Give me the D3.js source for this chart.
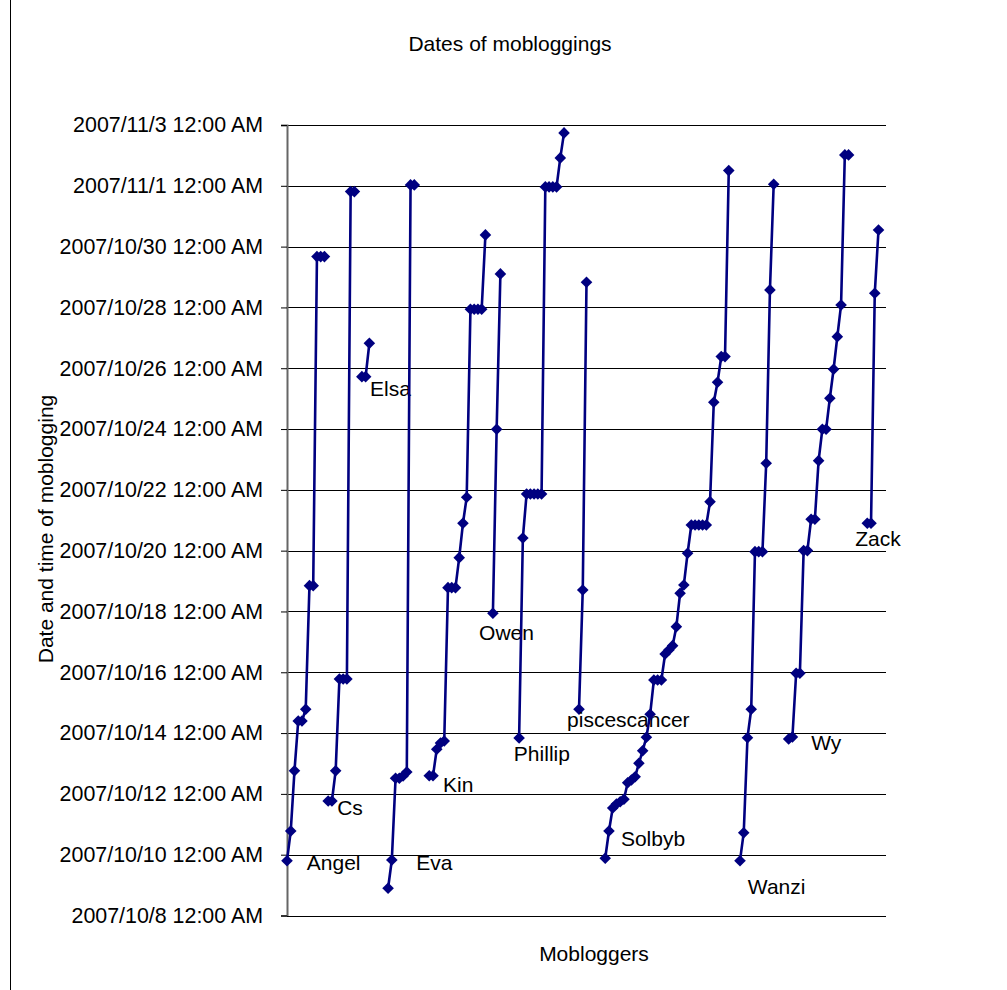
<!DOCTYPE html>
<html>
<head>
<meta charset="utf-8">
<script src="https://cdn.jsdelivr.net/npm/d3@7"></script>
<style>
  html, body { margin: 0; padding: 0; background: #fff; }
  svg { display: block; font-family: "Liberation Sans", Arial, sans-serif; }
</style>
</head>
<body>
<svg id="chart" width="1007" height="990"></svg>
<script>
// ---------------- DATA ----------------
const chartTitle = "Dates of mobloggings";
const yTitle = "Date and time of moblogging";
const xTitle = "Mobloggers";

const tickLabels = [
  "2007/10/8 12:00 AM", "2007/10/10 12:00 AM", "2007/10/12 12:00 AM", "2007/10/14 12:00 AM",
  "2007/10/16 12:00 AM", "2007/10/18 12:00 AM", "2007/10/20 12:00 AM", "2007/10/22 12:00 AM",
  "2007/10/24 12:00 AM", "2007/10/26 12:00 AM", "2007/10/28 12:00 AM", "2007/10/30 12:00 AM",
  "2007/11/1 12:00 AM", "2007/11/3 12:00 AM"
];

const categoryCount = 161;

const names = ["Angel", "Cs", "Elsa", "Eva", "Kin", "Owen", "Phillip", "piscescancer", "Solbyb", "Wanzi", "Wy", "Zack"];
const startCategory = [0, 11, 20, 27, 38, 55, 62, 78, 85, 121, 134, 155];

const angel = ["2007-10-09 19:16", "2007-10-10 18:43", "2007-10-12 18:19", "2007-10-14 09:33", "2007-10-14 09:33",
  "2007-10-14 18:47", "2007-10-18 20:23", "2007-10-18 20:23", "2007-10-29 16:06", "2007-10-29 16:06", "2007-10-29 16:06"];
const cs = ["2007-10-11 18:23", "2007-10-11 18:23", "2007-10-12 18:19", "2007-10-15 18:43", "2007-10-15 18:43",
  "2007-10-15 18:43", "2007-10-31 19:25", "2007-10-31 19:25"];
const elsa = ["2007-10-25 17:22", "2007-10-25 17:22", "2007-10-26 19:44"];
const eva = ["2007-10-08 21:29", "2007-10-09 19:50", "2007-10-12 12:19", "2007-10-12 12:19", "2007-10-12 14:08",
  "2007-10-12 17:17", "2007-11-01 00:43", "2007-11-01 00:43"];
const kin = ["2007-10-12 14:22", "2007-10-12 14:22", "2007-10-13 11:12", "2007-10-13 16:11", "2007-10-13 17:46",
  "2007-10-18 18:47", "2007-10-18 18:47", "2007-10-18 18:47", "2007-10-19 18:29", "2007-10-20 21:37",
  "2007-10-21 18:10", "2007-10-27 22:35", "2007-10-27 22:35", "2007-10-27 22:35", "2007-10-27 22:35",
  "2007-10-30 09:14"];
const owen = ["2007-10-17 22:35", "2007-10-23 23:50", "2007-10-29 02:27"];
const phillip = ["2007-10-13 20:08", "2007-10-20 10:02", "2007-10-21 20:46", "2007-10-21 20:46", "2007-10-21 20:46",
  "2007-10-21 20:46", "2007-10-21 20:46", "2007-10-31 23:08", "2007-10-31 23:08", "2007-10-31 23:08",
  "2007-10-31 23:08", "2007-11-01 22:02", "2007-11-02 17:46"];
const piscescancer = ["2007-10-14 18:47", "2007-10-18 16:58", "2007-10-28 19:53"];
const solbyb = ["2007-10-09 21:10", "2007-10-10 18:43", "2007-10-11 12:52", "2007-10-11 16:02", "2007-10-11 17:50",
  "2007-10-11 19:44", "2007-10-12 08:50", "2007-10-12 10:58", "2007-10-12 13:35", "2007-10-13 00:10",
  "2007-10-13 10:06", "2007-10-13 20:41", "2007-10-14 14:50", "2007-10-15 17:55", "2007-10-15 17:55",
  "2007-10-15 17:55", "2007-10-16 14:27", "2007-10-16 17:37", "2007-10-16 21:00", "2007-10-17 12:00",
  "2007-10-18 14:22", "2007-10-18 20:55", "2007-10-19 21:56", "2007-10-20 20:17", "2007-10-20 20:17",
  "2007-10-20 20:17", "2007-10-20 20:17", "2007-10-20 20:17", "2007-10-21 14:41", "2007-10-24 21:10",
  "2007-10-25 12:56", "2007-10-26 09:10", "2007-10-26 09:10", "2007-11-01 12:00"];
const wanzi = ["2007-10-09 19:16", "2007-10-10 17:22", "2007-10-13 20:22", "2007-10-14 18:47", "2007-10-19 23:13",
  "2007-10-19 23:13", "2007-10-19 23:13", "2007-10-22 21:00", "2007-10-28 13:49", "2007-11-01 01:16"];
const wy = ["2007-10-13 19:21", "2007-10-13 20:55", "2007-10-15 23:13", "2007-10-15 23:13", "2007-10-20 00:02",
  "2007-10-20 00:02", "2007-10-21 00:47", "2007-10-21 00:47", "2007-10-22 23:03", "2007-10-23 23:50",
  "2007-10-23 23:50", "2007-10-25 00:19", "2007-10-25 23:13", "2007-10-27 00:56", "2007-10-28 01:58",
  "2007-11-02 00:23", "2007-11-02 00:23"];
const zack = ["2007-10-20 21:37", "2007-10-20 21:37", "2007-10-28 11:13", "2007-10-30 13:10"];

const seriesValues = [angel, cs, elsa, eva, kin, owen, phillip, piscescancer, solbyb, wanzi, wy, zack];

// label anchors (category position, time) for the name annotations
const labelCategory = [5.3, 13.4, 22.2, 34.5, 41.7, 51.3, 60.6, 74.8, 89.2, 123.1, 140.0, 151.8];
const labelTime = ["2007-10-09 18:14", "2007-10-11 13:40", "2007-10-25 07:40", "2007-10-09 18:14",
  "2007-10-12 07:50", "2007-10-17 07:50", "2007-10-13 08:17", "2007-10-14 11:08", "2007-10-10 13:11",
  "2007-10-08 23:17", "2007-10-13 16:58", "2007-10-20 10:02"];

// ---------------- DRAW ----------------
const parseTime = d3.timeParse("%Y-%m-%d %H:%M");
const parseTick = d3.timeParse("%Y/%m/%d %I:%M %p");
const tickDates = tickLabels.map(parseTick);

const svg = d3.select("#chart");
const W = 1007, H = 990;
const plot = { left: 287, right: 886, top: 125, bottom: 915.5 };
const FS = 21;

// outer chart border
svg.append("rect").attr("x", 10.5).attr("y", -5).attr("width", W + 10).attr("height", H + 10)
  .attr("fill", "#fff").attr("stroke", "#000").attr("stroke-width", 1);

const x = d3.scaleLinear().domain([0, categoryCount - 1]).range([plot.left, plot.right]);
const y = d3.scaleTime().domain([tickDates[0], tickDates[tickDates.length - 1]]).range([plot.bottom, plot.top]);

// gridlines
svg.append("g").selectAll("line").data(tickDates).join("line")
  .attr("x1", plot.left).attr("x2", plot.right)
  .attr("y1", d => Math.round(y(d)) + 0.5).attr("y2", d => Math.round(y(d)) + 0.5)
  .attr("stroke", "#000").attr("stroke-width", 1);

// y axis
const yAxis = d3.axisLeft(y).tickValues(tickDates).tickFormat((d, i) => tickLabels[i]).tickSize(6).tickPadding(18);
const gy = svg.append("g").attr("transform", `translate(${plot.left},0)`).call(yAxis);
gy.select(".domain").attr("stroke", "#666").attr("stroke-width", 2);
gy.selectAll(".tick line").attr("stroke", "#000");
gy.selectAll(".tick text").attr("font-size", 21.4).attr("fill", "#000")
  .attr("font-family", "Liberation Sans, Arial, sans-serif");

// x axis baseline
svg.append("line").attr("x1", plot.left).attr("x2", plot.right)
  .attr("y1", Math.round(plot.bottom) + 0.5).attr("y2", Math.round(plot.bottom) + 0.5)
  .attr("stroke", "#000").attr("stroke-width", 1);

// series
const line = d3.line().x(d => x(d.i)).y(d => y(d.t));
const navy = "#000080";
const diamond = "M0,-5.8L5.8,0L0,5.8L-5.8,0Z";

names.forEach((name, k) => {
  const pts = seriesValues[k].map((v, j) => ({ i: startCategory[k] + j, t: parseTime(v) }));
  const g = svg.append("g").attr("class", "series");
  g.append("path").datum(pts).attr("d", line)
    .attr("fill", "none").attr("stroke", navy).attr("stroke-width", 2.6).attr("stroke-linejoin", "round");
  g.selectAll("path.m").data(pts).join("path").attr("class", "m")
    .attr("d", diamond).attr("transform", d => `translate(${x(d.i)},${y(d.t)})`)
    .attr("fill", navy);
  svg.append("text").attr("x", x(labelCategory[k])).attr("y", y(parseTime(labelTime[k])))
    .attr("dy", "0.36em").attr("font-size", FS).attr("fill", "#000").text(name);
});

// titles
svg.append("text").attr("x", 510).attr("y", 43).attr("dy", "0.36em").attr("text-anchor", "middle")
  .attr("font-size", FS).text(chartTitle);
svg.append("text").attr("transform", "translate(45,529) rotate(-90)").attr("dy", "0.36em")
  .attr("text-anchor", "middle").attr("font-size", FS).text(yTitle);
svg.append("text").attr("x", 594).attr("y", 953).attr("dy", "0.36em").attr("text-anchor", "middle")
  .attr("font-size", FS).text(xTitle);
</script>
</body>
</html>
